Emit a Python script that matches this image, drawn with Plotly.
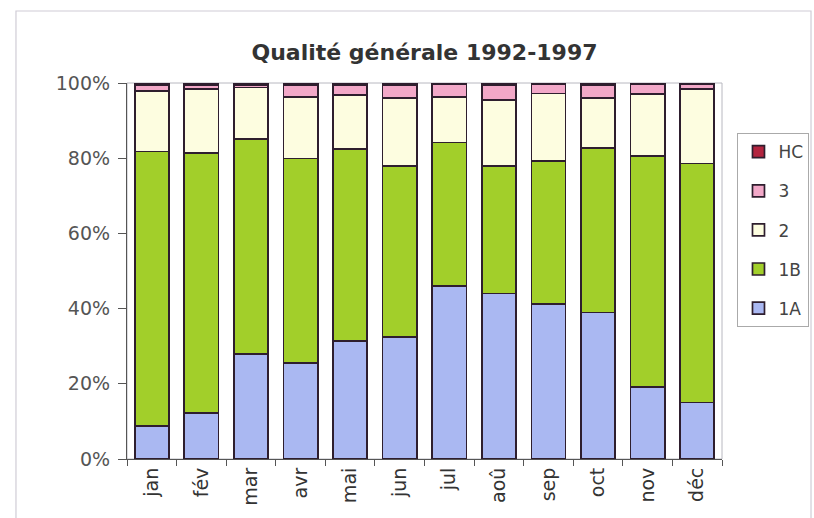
import plotly.graph_objects as go

# Monthly breakdown of water quality classes (% of samples), 1992-1997
months = ["jan", "fév", "mar", "avr", "mai", "jun", "jul", "aoû", "sep", "oct", "nov", "déc"]

q_1A = [8.8, 12.3, 28.0, 25.5, 31.3, 32.4, 46.1, 44.0, 41.3, 39.0, 19.1, 15.0]
q_1B = [73.0, 69.0, 57.2, 54.4, 51.1, 45.5, 38.1, 33.9, 38.0, 43.7, 61.5, 63.6]
q_2 = [16.0, 17.1, 13.6, 16.4, 14.5, 18.1, 12.1, 17.6, 17.9, 13.3, 16.5, 19.8]
q_3 = [1.7, 1.1, 0.7, 3.2, 2.6, 3.5, 3.3, 4.0, 2.4, 3.5, 2.5, 1.3]
q_HC = [0.5, 0.5, 0.5, 0.5, 0.5, 0.5, 0.4, 0.5, 0.4, 0.5, 0.4, 0.3]

y_ticks = [0, 20, 40, 60, 80, 100]
y_tick_labels = ["0%", "20%", "40%", "60%", "80%", "100%"]

# (name, values, colour, position in legend from the top)
series = [
    ("1A", q_1A, "#aab8f2", 5),
    ("1B", q_1B, "#a2cf2a", 4),
    ("2", q_2, "#fdfde0", 3),
    ("3", q_3, "#f2a8c8", 2),
    ("HC", q_HC, "#b3243f", 1),
]

FONT = "DejaVu Sans, Liberation Sans, sans-serif"

fig = go.Figure()
for name, vals, color, rank in series:
    fig.add_trace(go.Bar(
        x=months, y=vals, name=name, legendgroup=name, legendrank=rank,
        marker=dict(color=color, line=dict(color="#2e1e2e", width=1.7)),
    ))

fig.update_layout(
    width=814, height=518,
    barmode="stack", bargap=0.31,
    paper_bgcolor="white", plot_bgcolor="white",
    margin=dict(l=127, r=92, t=83, b=59, autoexpand=False),
    font=dict(family=FONT, size=17, color="#444"),
    title=dict(text="<b>Qualité générale 1992-1997</b>", x=0.5, xref="paper",
               xanchor="center", y=0.9, yref="container", yanchor="middle",
               font=dict(family=FONT, size=22, color="#333")),
    showlegend=True,
    legend=dict(
        traceorder="grouped", tracegroupgap=14, itemwidth=30,
        xref="container", yref="container",
        x=0.906, xanchor="left", y=0.743, yanchor="top",
        bordercolor="#aaaaaa", borderwidth=1, bgcolor="white",
        font=dict(family=FONT, size=17, color="#444"),
    ),
    xaxis=dict(
        tickangle=-90, showgrid=False, showline=True, linecolor="#555",
        linewidth=1.2, ticks="outside", tickson="boundaries", ticklen=6,
        tickcolor="#555", tickfont=dict(family=FONT, size=19, color="#333"),
    ),
    yaxis=dict(
        range=[0, 100], tickvals=y_ticks, ticktext=y_tick_labels,
        showgrid=False, zeroline=False, showline=True, linecolor="#555",
        linewidth=1.2, ticks="outside", ticklen=8, tickcolor="#555",
        ticklabelstandoff=4,
        tickfont=dict(family=FONT, size=19, color="#555"),
    ),
    shapes=[
        # plot area frame
        dict(type="rect", xref="paper", yref="paper", x0=0, x1=1, y0=0, y1=1,
             line=dict(color="#b8b8c0", width=1), layer="below"),
        # outer chart frame
        dict(type="rect", xref="paper", yref="paper", x0=-0.1866, x1=1.1496,
             y0=-0.1755, y1=1.1915, line=dict(color="#d0ccd6", width=1.2)),
    ],
)

fig.write_html("out.html")
